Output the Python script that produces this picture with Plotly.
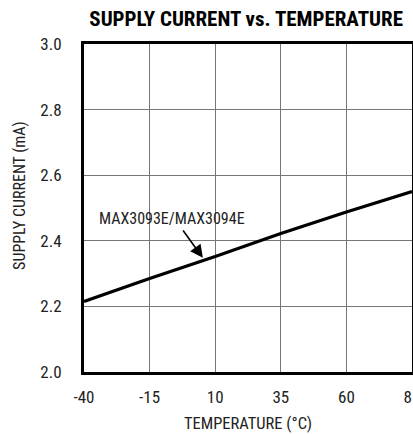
import plotly.graph_objects as go

temperature = [-40, -15, 10, 35, 60, 85]
supply_current = [2.215, 2.285, 2.352, 2.422, 2.488, 2.55]
x_ticks = [-40, -15, 10, 35, 60, 85]
y_ticks = [2.0, 2.2, 2.4, 2.6, 2.8, 3.0]

FONT = "Roboto Condensed, Roboto, sans-serif"

fig = go.Figure()
fig.add_trace(go.Scatter(x=temperature, y=supply_current, mode="lines",
                         line=dict(color="black", width=3.2), showlegend=False))

fig.add_annotation(x=-35.05, y=2.4695, text="MAX3093E/MAX3094E", showarrow=False,
                   xanchor="left", yanchor="middle", font=dict(family=FONT, size=16, color="#222"))
fig.add_annotation(x=5.3, y=2.348, ax=-2.65, ay=2.436, axref="x", ayref="y",
                   text="", showarrow=True, arrowhead=2, arrowsize=1.6, arrowwidth=1.6,
                   arrowcolor="black")
# y-axis title (placed as annotation to match reference offset)
fig.add_annotation(xref="paper", yref="paper", x=-0.195, y=0.537, text="SUPPLY CURRENT (mA)",
                   textangle=-90, showarrow=False, xanchor="center", yanchor="middle",
                   font=dict(family=FONT, size=16, color="#222"))

fig.update_layout(
    width=413, height=434,
    margin=dict(l=84, r=1, t=44, b=62, autoexpand=False),
    paper_bgcolor="white", plot_bgcolor="white",
    title=dict(text="<b>SUPPLY CURRENT vs. TEMPERATURE</b>", x=0.596, xanchor="center",
               y=0.958, yanchor="middle", font=dict(family=FONT, size=21, color="black")),
    font=dict(family=FONT, size=17, color="#222"),
)
fig.update_xaxes(range=[-40, 85], tickvals=x_ticks, ticktext=[str(v) for v in x_ticks],
                 showgrid=True, gridcolor="#777", gridwidth=1, zeroline=False,
                 showline=True, linecolor="black", linewidth=3, mirror=True,
                 ticks="", ticklabelstandoff=8, automargin=False, ticklabeloverflow="allow",
                 tickfont=dict(size=17),
                 title=dict(text="TEMPERATURE (°C)", font=dict(family=FONT, size=16.5), standoff=12))
fig.update_yaxes(range=[2.0, 3.0], tickvals=y_ticks, ticktext=[f"{v:.1f}" for v in y_ticks],
                 showgrid=True, gridcolor="#777", gridwidth=1, zeroline=False,
                 showline=True, linecolor="black", linewidth=3, mirror=True,
                 ticks="", ticklabelstandoff=16, automargin=False,
                 tickfont=dict(size=17))

fig.write_html("out.html", config={"displayModeBar": False},
               post_script="document.body.style.margin='0';document.body.style.padding='0';")
